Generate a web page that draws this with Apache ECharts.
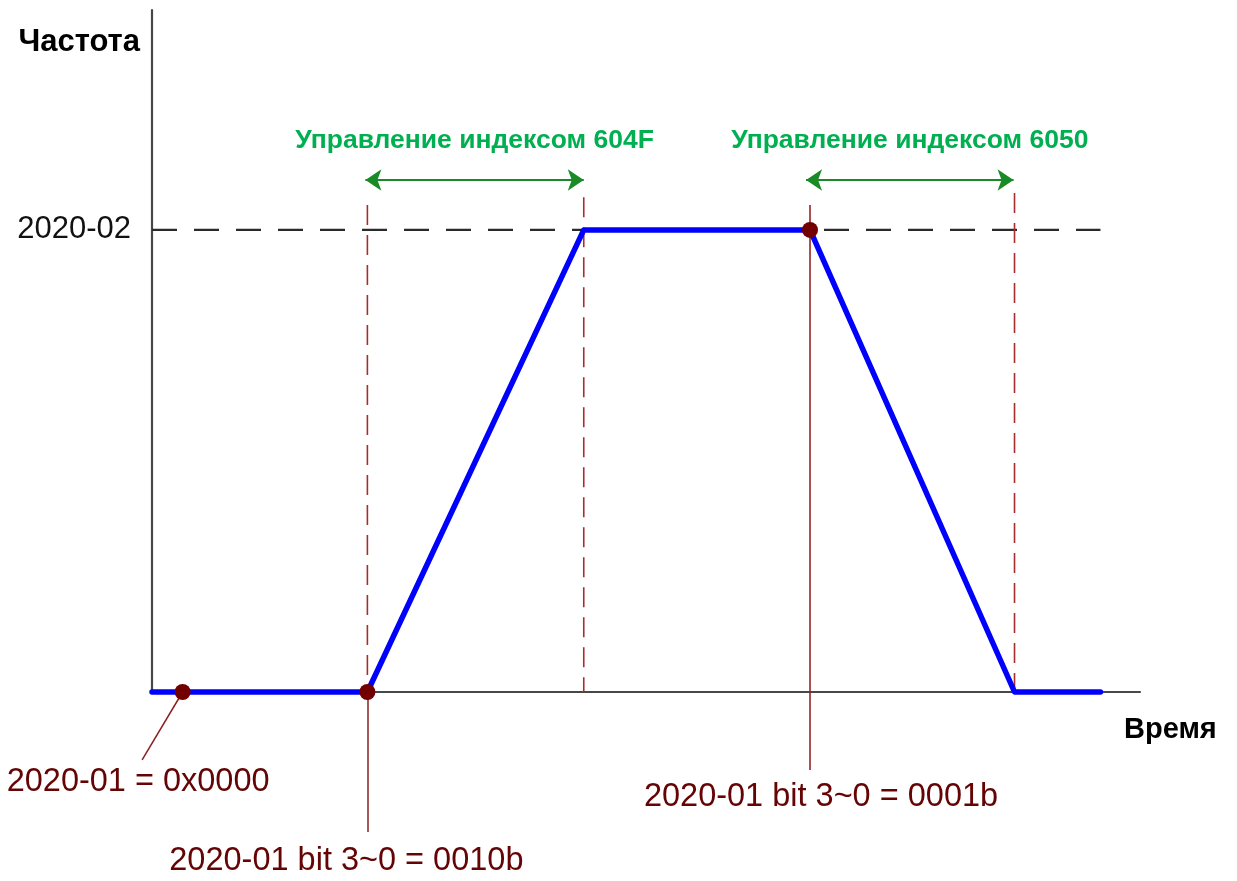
<!DOCTYPE html>
<html>
<head>
<meta charset="utf-8">
<script src="https://cdn.jsdelivr.net/npm/echarts@6/dist/echarts.min.js"></script>
<style>
html,body{margin:0;padding:0;background:#fff;}
#chart{width:1237px;height:881px;}
</style>
</head>
<body>
<div id="chart"></div>
<script>
// ---- data ----
const timePoints = [0, 21.8, 43.7, 66.6, 87.3, 96];
const freqValues = [0, 0, 1, 1, 0, 0];
const refLevel = 1;
const yTickValues = [1];
const yTickLabels = ['2020-02'];
const xAxisTitle = 'Время';
const yAxisTitle = 'Частота';

const eventTimes = [3.1, 21.8, 66.6];
const eventFreqs = [0, 0, 1];

const markerTimes = [21.8, 43.7, 66.6, 87.3];
const markerTops = [1.054, 1.071, 1.054, 1.08];
const markerDashed = [true, true, false, true];
const markerBottoms = [0, 0, -0.169, 0];

const calloutFromX = [3.1, 21.8, 66.6];
const calloutFromY = [0, 0, -0.169];
const calloutToX = [-1.0, 21.8, 66.6];
const calloutToY = [-0.147, -0.303, -0.169];
const calloutLabels = ['2020-01 = 0x0000', '2020-01 bit 3~0 = 0010b', '2020-01 bit 3~0 = 0001b'];

const rangeLabels = ['Управление индексом 604F', 'Управление индексом 6050'];
const rangeStarts = [21.6, 66.2];
const rangeEnds = [43.7, 87.2];
const rangeLevel = 1.108;

// ---- styles ----
const FONT = "'Liberation Sans', Arial, sans-serif";
const DARKRED = '#640404';
const labelOffsets = [[-4, 0], [-21, 0], [11, 0]];
const labelDistances = [6, 13, 10];

const chart = echarts.init(document.getElementById('chart'));

const series = [];

// reference dashed level
series.push({
  type: 'line', clip: false, silent: true, z: 2,
  showSymbol: false, symbol: 'none',
  data: [[timePoints[0], refLevel], [timePoints[timePoints.length - 1], refLevel]],
  lineStyle: { color: '#2a2a2a', width: 2.2, type: [25, 17] }
});

// vertical marker lines
markerTimes.forEach((t, i) => {
  series.push({
    type: 'line', clip: false, silent: true, z: 3, symbol: 'none',
    data: [[t, markerTops[i]], [t, markerBottoms[i]]],
    lineStyle: markerDashed[i]
      ? { color: '#a82e2e', width: 1.6, type: [20, 10] }
      : { color: '#962525', width: 1.6, type: 'solid' }
  });
});

// callout leader lines
series.push({
  type: 'lines', coordinateSystem: 'cartesian2d', silent: true, z: 3, clip: false,
  symbol: 'none',
  data: calloutLabels.map((lab, i) => ({
    coords: [[calloutFromX[i], calloutFromY[i]], [calloutToX[i], calloutToY[i]]]
  })),
  lineStyle: { color: '#8b2020', width: 1.5, opacity: 1 }
});

// frequency profile
series.push({
  type: 'line', clip: false, z: 5, symbol: 'none',
  data: timePoints.map((t, i) => [t, freqValues[i]]),
  lineStyle: { color: '#0000ff', width: 5.5, cap: 'round', join: 'round' }
});

// event dots
series.push({
  type: 'scatter', clip: false, z: 6, symbolSize: 16,
  data: eventTimes.map((t, i) => [t, eventFreqs[i]]),
  itemStyle: { color: '#720000', opacity: 1 }
});

// callout labels
series.push({
  type: 'scatter', clip: false, z: 7, symbolSize: 0,
  itemStyle: { opacity: 1 },
  data: calloutLabels.map((lab, i) => ({
    name: lab,
    value: [calloutToX[i], calloutToY[i]],
    label: { offset: labelOffsets[i], distance: labelDistances[i] }
  })),
  label: {
    show: true, position: 'bottom', formatter: '{b}',
    color: DARKRED, fontSize: 32.5, fontFamily: FONT
  }
});

// range arrows
series.push({
  type: 'lines', coordinateSystem: 'cartesian2d', z: 4,
  symbol: ['arrow', 'arrow'], symbolSize: 16,
  lineStyle: { color: '#1a8a26', width: 2.2, opacity: 1 },
  data: rangeLabels.map((n, i) => ({
    name: n,
    coords: [[rangeStarts[i], rangeLevel], [rangeEnds[i], rangeLevel]]
  })),
  label: {
    show: true, position: 'middle', formatter: '{b}', distance: 26,
    color: '#00b050', fontSize: 26.5, fontWeight: 'bold', fontFamily: FONT
  }
});

chart.setOption({
  animation: false,
  backgroundColor: '#fff',
  title: {
    text: xAxisTitle, left: 1124, top: 715, padding: 0,
    textStyle: { color: '#000', fontSize: 29, fontWeight: 'bold', fontFamily: FONT }
  },
  grid: { left: 152, right: 97, top: 10, bottom: 189 },
  xAxis: {
    type: 'value', min: 0, max: 100,
    axisLine: { show: true, lineStyle: { color: '#474747', width: 2.2 } },
    axisTick: { show: false }, axisLabel: { show: false }, splitLine: { show: false }
  },
  yAxis: {
    type: 'value', min: 0, max: 1.476, interval: 1,
    name: yAxisTitle, nameLocation: 'end', nameGap: -32,
    nameTextStyle: { color: '#000', fontSize: 31, fontWeight: 'bold', fontFamily: FONT,
      align: 'right', verticalAlign: 'middle', padding: [0, 12, 0, 0] },
    axisLine: { show: true, lineStyle: { color: '#474747', width: 2.2 } },
    axisTick: { show: false }, splitLine: { show: false },
    axisLabel: {
      margin: 21, color: '#111', fontSize: 31, fontFamily: FONT,
      formatter: v => { const k = yTickValues.indexOf(v); return k >= 0 ? yTickLabels[k] : ''; }
    }
  },
  series: series
});
</script>
</body>
</html>
